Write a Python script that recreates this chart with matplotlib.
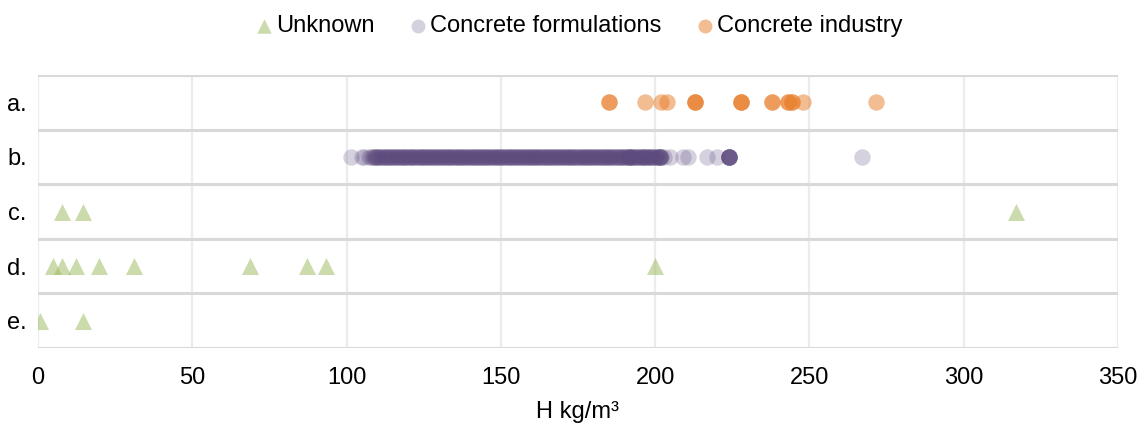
import matplotlib
matplotlib.use('Agg')
import matplotlib.pyplot as plt

plt.rcParams['font.family'] = ['Liberation Sans', 'DejaVu Sans']

categories = ['a.', 'b.', 'c.', 'd.', 'e.']
x_ticks = [0, 50, 100, 150, 200, 250, 300, 350]

# Concrete industry (row a.)
industry_x = [185, 185, 196.8, 201.9, 203.9, 212.9, 212.9, 212.9, 227.8, 227.8, 227.8,
              237.9, 237.9, 243, 243, 244.2, 244.2, 248, 271.6]
industry_cat = ['a.'] * len(industry_x)

# Concrete formulations (row b.) - dense cluster
formul_x = [101.6, 104.9, 105.5, 107.2,
            108, 109, 110, 111, 112, 113, 114, 115, 116, 117, 118, 119, 120, 121, 122,
            123, 124, 125, 126, 127, 128, 129, 130, 131, 132, 133, 134, 135, 136, 137,
            138, 139, 140, 141, 142, 143, 144, 145, 146, 147, 148, 149, 150, 151, 152,
            153, 154, 155, 156, 157, 158, 159, 160, 161, 162, 163, 164, 165, 166, 167,
            168, 169, 170, 171, 172, 173, 174, 175, 176, 177, 178, 179, 180, 181, 182,
            183, 184, 185, 186, 187, 188, 189, 190, 191, 192, 193, 194, 195, 196, 197,
            198, 199, 200, 201, 202,
            108.5, 109.5, 110.5, 111.5, 112.5, 113.5, 114.5, 115.5, 116.5, 117.5, 118.5,
            119.5, 120.5, 121.5, 122.5, 123.5, 124.5, 125.5, 126.5, 127.5, 128.5, 129.5,
            130.5, 131.5, 132.5, 133.5, 134.5, 135.5, 136.5, 137.5, 138.5, 139.5, 140.5,
            141.5, 142.5, 143.5, 144.5, 145.5, 146.5, 147.5, 148.5, 149.5, 150.5, 151.5,
            152.5, 153.5, 154.5, 155.5, 156.5, 157.5, 158.5, 159.5, 160.5, 161.5, 162.5,
            163.5, 164.5, 165.5, 166.5, 167.5, 168.5, 169.5, 170.5, 171.5, 172.5, 173.5,
            174.5, 175.5, 176.5, 177.5, 178.5, 179.5, 180.5, 181.5, 182.5, 183.5, 184.5,
            185.5, 186.5, 187.5, 188.5, 189.5, 190.5, 191.5, 192.5, 193.5, 194.5, 195.5,
            196.5, 197.5, 198.5, 199.5, 200.5,
            109.2, 110.2, 111.7, 113.1, 114.8, 116.2, 117.7, 119.1, 120.8, 122.2, 123.7,
            125.1, 126.8, 128.2, 129.7, 131.1, 132.8, 134.2, 135.7, 137.1, 138.8, 140.2,
            141.7, 143.1, 144.8, 146.2, 147.7, 149.1, 150.8, 152.2, 153.7, 155.1, 156.8,
            158.2, 159.7, 161.1, 162.8, 164.2, 165.7, 167.1, 168.8, 170.2, 171.7, 173.1,
            174.8, 176.2, 177.7, 179.1, 180.8, 182.2, 183.7, 185.1, 186.8, 188.2, 189.7,
            191.1, 192.8, 194.2, 195.7, 197.1, 198.8, 200.2,
            191.9, 191.9, 191.9, 196.0, 198.2, 201.6, 201.6, 201.6, 201.6, 201.6, 202.8,
            204.8, 209.0, 210.6, 216.7, 220.0,
            224.0, 224.0, 224.0, 224.0, 224.0, 224.0, 224.0, 224.0, 267.0]
formul_cat = ['b.'] * len(formul_x)

# Unknown (rows c., d., e.)
unknown_x = [7.8, 14.7, 317,
             4.8, 7.8, 12.3, 19.8, 31, 68.7, 87.3, 93.5, 200,
             0.7, 14.7]
unknown_cat = ['c.'] * 3 + ['d.'] * 9 + ['e.'] * 2

fig = plt.figure(figsize=(11.47, 4.24), dpi=100)
ax = fig.add_axes([0.0331, 0.1792, 0.9416, 0.6439])

pos = {c: i for i, c in enumerate(categories)}

ax.scatter(unknown_x, [pos[c] for c in unknown_cat], marker='^', s=150,
           color='#9bb85a', alpha=0.5, linewidths=0, label='Unknown', zorder=3)
ax.scatter(formul_x, [pos[c] for c in formul_cat], marker='o', s=140,
           color='#5e4b7e', alpha=0.25, linewidths=0, label='Concrete formulations', zorder=3)
ax.scatter(industry_x, [pos[c] for c in industry_cat], marker='o', s=140,
           color='#e87d2a', alpha=0.5, linewidths=0, label='Concrete industry', zorder=3)

ax.set_xlim(0, 350)
ax.set_ylim(len(categories) - 0.5, -0.5)
ax.set_xticks(x_ticks)
ax.set_yticks(range(len(categories)), labels=categories)

for xv in x_ticks:
    ax.axvline(xv, color='#ececec', lw=1.6, zorder=1)
for k in range(len(categories) + 1):
    ax.axhline(k - 0.5, color='#d9d9d9', lw=2.2, zorder=2)

for sp in ax.spines.values():
    sp.set_visible(False)

ax.tick_params(axis='x', length=0, pad=14, labelsize=17)
ax.tick_params(axis='y', length=0, pad=8, labelsize=17)
ax.set_xlabel('H kg/m³', fontsize=17, labelpad=8)

fig.legend(loc='upper center', bbox_to_anchor=(0.505, 1.015), ncol=3, frameon=False,
           fontsize=17, handletextpad=0.15, columnspacing=1.5, handlelength=0.7,
           markerscale=0.85)

fig.savefig('out.png', dpi=100)
